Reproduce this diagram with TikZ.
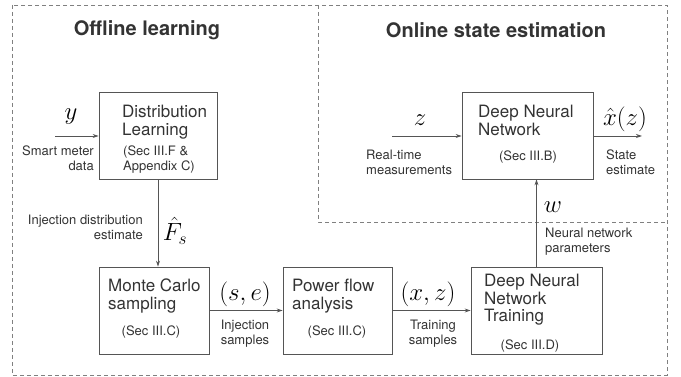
\documentclass[tikz,border=0pt]{standalone}
\usepackage{fontspec}
\setmainfont{TeX Gyre Heros}
\usetikzlibrary{arrows.meta}
\definecolor{linegray}{HTML}{555555}
\definecolor{dashgray}{HTML}{808080}
\definecolor{textgray}{HTML}{333333}
\tikzset{
  blk/.style={draw=linegray, line width=0.8pt, minimum height=87pt},
  blktext/.style={anchor=north west, inner sep=0pt, align=left, text=textgray,
    font=\fontsize{17}{17.5}\selectfont},
  sectext/.style={inner sep=0pt, align=left, text=textgray,
    font=\fontsize{13}{14.5}\selectfont},
  lbl/.style={inner sep=0pt, text=textgray, font=\fontsize{13}{14.5}\selectfont},
  mathlbl/.style={inner sep=0pt, text=black, font=\fontsize{27}{29}\selectfont},
  ttl/.style={inner sep=0pt, text=textgray, font=\fontsize{20}{22}\selectfont\bfseries},
  frame/.style={draw=dashgray, line width=0.7pt, dash pattern=on 4pt off 3pt},
}

\begin{document}
\begin{tikzpicture}[x=1pt,y=-1pt,>={Stealth[length=6pt,width=4pt]}]
\useasboundingbox (0,0) rectangle (681,377);
% dashed frames
\draw[frame] (12,5) rectangle (667,375);
\draw[frame] (318,5) -- (318,222) -- (667,222);
\node[ttl] (offttl) at (147,30) {Offline learning};
\node[ttl] (onttl) at (496,30) {Online state estimation};

% blocks
\node[blk, minimum width=118pt] (DL) at (158,135.5) {};
\node[blk, minimum width=110pt] (MC) at (154,310.5) {};
\node[blk, minimum width=109pt] (PF) at (337.5,310.5) {};
\node[blk, minimum width=131pt] (DNNT) at (536.5,310.5) {};
\node[blk, minimum width=131pt] (DNN) at (527.5,135.5) {};

\node[blktext] (DLt) at (122,105) {Distribution\\Learning};
\node[sectext, anchor=north west] (DLs) at (123,146) {(Sec III.F \&\\Appendix C)};
\node[blktext] (MCt) at (108,279) {Monte Carlo\\sampling};
\node[sectext] (MCs) at (151,332) {(Sec III.C)};
\node[blktext] (PFt) at (292,279) {Power flow\\analysis};
\node[sectext] (PFs) at (337,332) {(Sec III.C)};
\node[blktext] (DNNTt) at (484,274) {Deep Neural\\Network\\Training};
\node[sectext] (DNNTs) at (530,346) {(Sec III.D)};
\node[blktext] (DNNt) at (478,105) {Deep Neural\\Network};
\node[sectext] (DNNs) at (528,157) {(Sec III.B)};

% free ends
\coordinate (yin) at (55,136);
\coordinate (zin) at (392,136);
\coordinate (xout) at (642,136);

\draw[->,draw=linegray,line width=0.8pt] (yin) -- (DL.west |- yin);
\draw[->,draw=linegray,line width=0.8pt] (DL.south) -- (DL.south |- MC.north);
\draw[->,draw=linegray,line width=0.8pt] (MC.east) -- (PF.west);
\draw[->,draw=linegray,line width=0.8pt] (PF.east) -- (DNNT.west);
\draw[->,draw=linegray,line width=0.8pt] (DNNT.north) -- (DNNT.north |- DNN.south);
\draw[->,draw=linegray,line width=0.8pt] (zin) -- (DNN.west |- zin);
\draw[->,draw=linegray,line width=0.8pt] (DNN.east |- xout) -- (xout);

% connector labels
\node[mathlbl] (ylbl) at (71,117) {$y$};
\node[lbl, anchor=north east, align=right] (ytxt) at (94,146) {Smart meter\\data};
\node[mathlbl] (Flbl) at (175,231) {$\hat F_s$};
\node[lbl, anchor=north east, align=right] (Ftxt) at (143,215) {Injection distribution\\estimate};
\node[mathlbl] (selbl) at (245,294) {$(s,e)$};
\node[lbl, anchor=north, align=center] (setxt) at (245,320) {Injection\\samples};
\node[mathlbl] (xzlbl) at (428,294) {$(x,z)$};
\node[lbl, anchor=north, align=center] (xztxt) at (433,320) {Training\\samples};
\node[mathlbl] (wlbl) at (553,207) {$w$};
\node[lbl, anchor=north west, align=left] (wtxt) at (545,228) {Neural network\\parameters};
\node[mathlbl] (zlbl) at (420,120) {$z$};
\node[lbl, anchor=north west, align=left] (ztxt) at (366,150) {Real-time\\measurements};
\node[mathlbl] (xlbl) at (625,119) {$\hat x(z)$};
\node[lbl, anchor=north west, align=left] (xtxt) at (606,150) {State\\estimate};
\end{tikzpicture}
\end{document}
